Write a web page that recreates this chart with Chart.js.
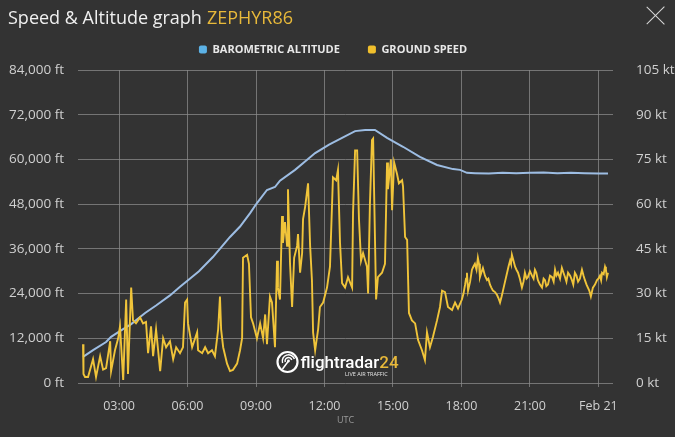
<!DOCTYPE html>
<html><head><meta charset="utf-8">
<script src="https://cdn.jsdelivr.net/npm/chart.js@4.4.1/dist/chart.umd.min.js"></script>
<style>
html,body{margin:0;padding:0;background:#333333;width:675px;height:437px;overflow:hidden;font-family:'Open Sans',sans-serif}
#c{position:absolute;left:0;top:0}
#title{position:absolute;left:8px;top:5px;font-size:18px;color:#f0f0f0;white-space:nowrap}
#title span{color:#e8b93a;margin-left:5px}
#close{position:absolute;left:646px;top:6px;width:20px;height:20px}
#close:before,#close:after{content:'';position:absolute;left:9px;top:-3px;width:1.4px;height:25px;background:#d8d8d8;transform:rotate(45deg)}
#close:after{transform:rotate(-45deg)}
</style></head>
<body>
<canvas id="c" width="675" height="437"></canvas>
<div id="title">Speed &amp; Altitude graph<span>ZEPHYR86</span></div>
<div id="close"></div>
<script>
// ---- data (hours since Feb 20 00:00 UTC) ----
const altHours = [1.42,1.86,2.43,2.65,3.0,3.53,4.14,4.62,5.23,5.67,6.02,6.50,7.11,7.86,8.30,8.74,9.04,9.48,9.83,10.05,10.71,11.20,11.59,12.20,12.77,13.34,13.78,14.21,14.74,15.44,16.18,16.93,17.63,17.94,18.24,18.60,19.20,19.80,20.40,21.00,21.60,22.20,22.80,23.40,24.00,24.42];
const altFeet  = [7000,8800,11000,12400,13800,15800,18800,20800,23500,25800,27600,30000,33800,39200,42000,45600,48300,51800,52600,54300,57200,59700,61700,64000,65800,67600,67900,67900,65800,63400,60700,58500,57400,57200,56400,56300,56200,56400,56300,56400,56500,56300,56400,56300,56200,56200];

const speedHours = [1.42,1.44,1.51,1.64,1.86,1.99,2.17,2.30,2.43,2.61,2.65,2.82,2.96,3.04,3.18,3.31,3.39,3.53,3.61,3.74,3.92,4.05,4.18,4.27,4.40,4.49,4.62,4.80,4.93,5.06,5.23,5.37,5.50,5.67,5.80,5.89,5.98,6.02,6.20,6.42,6.46,6.64,6.77,6.90,7.07,7.20,7.34,7.42,7.47,7.56,7.73,7.86,7.99,8.17,8.30,8.39,8.43,8.61,8.69,8.78,8.87,9.04,9.18,9.31,9.40,9.48,9.61,9.70,9.83,9.92,9.96,10.05,10.14,10.18,10.27,10.36,10.40,10.49,10.58,10.67,10.80,10.84,10.93,11.02,11.06,11.15,11.28,11.37,11.45,11.50,11.59,11.72,11.80,11.94,12.11,12.24,12.37,12.51,12.59,12.68,12.77,12.90,13.03,13.21,13.25,13.34,13.43,13.51,13.60,13.69,13.86,13.91,13.99,14.08,14.13,14.21,14.26,14.34,14.52,14.65,14.74,14.78,14.91,14.96,15.05,15.18,15.26,15.40,15.44,15.53,15.62,15.70,15.83,15.97,16.10,16.27,16.40,16.49,16.62,16.75,16.93,17.06,17.15,17.28,17.41,17.59,17.72,17.85,18.02,18.09,18.16,18.20,18.24,18.29,18.38,18.46,18.52,18.59,18.66,18.72,18.77,18.81,18.87,18.94,19.03,19.12,19.18,19.25,19.31,19.38,19.47,19.56,19.62,19.69,19.76,19.82,19.91,20.00,20.06,20.13,20.17,20.21,20.28,20.35,20.41,20.48,20.56,20.65,20.72,20.78,20.85,20.91,21.00,21.09,21.16,21.22,21.28,21.35,21.44,21.53,21.60,21.66,21.72,21.79,21.88,21.97,22.04,22.10,22.16,22.23,22.32,22.40,22.47,22.54,22.60,22.67,22.76,22.84,22.90,22.97,23.04,23.11,23.19,23.28,23.35,23.41,23.48,23.54,23.60,23.67,23.76,23.85,23.94,24.00,24.07,24.12,24.16,24.23,24.29,24.33,24.37,24.42];
const speedKnots = [13,3,2,2,8,2,9,4.5,5,14,4,11,15,19,1,28,3,32,21,20,22,20,20.5,10,19,9,18,4,15,12,14,8,12,10,12,27,28,20,12,17,11,10,12,10,11,9,18,29,18,12,6.5,4,4.4,6.5,11,15,42,43,40,22,20,15,20,15,23,13,29,27,12,41,32,28,56,47,54,46,65,40,25.5,42,46,50,37,43.6,55,59,67,46,34.5,17,11,18,25.5,27,32,39,69,68,71.5,47,33.5,32,35.5,32,57,78,78,55,41,43.6,39,30,60,81.5,82,49,28,35.5,37,40,74,65,75,58,74,70,67,68,66,49,48,23.5,21,20,14.4,11,7.7,17,12,15.4,21,25.5,31,30.5,25.5,24.5,27,25,28,30,33,35,37,31,34,38,39,40,38,42,40,35.5,37,38.6,36,34.5,35,33,32,31,30.5,29.5,28.5,27,29,31,34,37,39,41,40,43,41,39,38,37,35,32,34,37,35,35.5,37.5,36,35,38,37,34.5,33,32,35,34.5,32.5,33,36,35.5,34,38,36,37,35,38.6,37,35.5,34,37,36,34.5,33,37,36,34,35,38,36,34.5,33,32,31,29,32,33,34.5,35,36,34.5,37,36.5,39,38,35.5,37];

const xTickHours  = [3,6,9,12,15,18,21,24];
const xTickLabels = ['03:00','06:00','09:00','12:00','15:00','18:00','21:00','Feb 21'];
const altTicks    = [0,12000,24000,36000,48000,60000,72000,84000];
const speedTicks  = [0,15,30,45,60,75,90,105];

const FONT = "'Open Sans', 'Noto Sans', sans-serif";
const GRID = 'rgba(140,140,140,0.75)';

const watermark = {
  id:'watermark',
  afterDatasetsDraw(chart){
    const ctx = chart.ctx, a = chart.chartArea;
    const cx = (a.left + a.right)/2 - 58, cy = a.bottom - 21;
    ctx.save();
    ctx.strokeStyle = '#ffffff'; ctx.fillStyle = '#ffffff';
    ctx.lineWidth = 2.2;
    ctx.beginPath(); ctx.arc(cx, cy, 10, 0, Math.PI*2); ctx.stroke();
    ctx.lineWidth = 1.5;
    ctx.beginPath(); ctx.arc(cx+1, cy-1, 6.2, Math.PI*0.9, Math.PI*1.9); ctx.stroke();
    ctx.beginPath(); ctx.arc(cx+1, cy-1, 3.4, Math.PI*0.9, Math.PI*1.9); ctx.stroke();
    ctx.beginPath(); ctx.moveTo(cx-5, cy+7); ctx.lineTo(cx+1, cy-1); ctx.stroke();
    ctx.beginPath(); ctx.arc(cx+1, cy-1, 1.4, 0, Math.PI*2); ctx.fill();
    ctx.font = "500 17px 'Roboto', " + FONT;
    ctx.textBaseline = 'alphabetic';
    const t1 = 'flightradar', x0 = cx + 13, by = cy + 6;
    ctx.fillText(t1, x0, by);
    const w1 = ctx.measureText(t1).width;
    ctx.fillStyle = '#e8b93a';
    ctx.fillText('24', x0 + w1, by);
    const w2 = ctx.measureText('24').width;
    ctx.fillStyle = '#e6e6e6';
    ctx.font = "5.5px " + FONT;
    ctx.textAlign = 'right';
    ctx.fillText('LIVE AIR TRAFFIC', x0 + w1 + w2 - 11, by + 8);
    ctx.restore();
  }
};

const legendGap = {
  id:'legendGap',
  beforeInit(chart){
    const fit = chart.legend.fit;
    chart.legend.fit = function(){ fit.call(this); this.height += 5; };
  },
  afterLayout(chart){
    chart.legend.left -= 4.5; chart.legend.right -= 4.5;
  }
};

new Chart(document.getElementById('c'), {
  type:'line',
  data:{
    datasets:[
      {label:'BAROMETRIC ALTITUDE', data: altHours.map((h,i)=>({x:h,y:altFeet[i]})), yAxisID:'yL',
       borderColor:'#9dbde3', backgroundColor:'#5cb2e6', borderWidth:2, pointRadius:0, tension:0, order:2},
      {label:'GROUND SPEED', data: speedHours.map((h,i)=>({x:h,y:speedKnots[i]})), yAxisID:'yR',
       borderColor:'#f0c43a', backgroundColor:'#f0bf2c', borderWidth:1.9, pointRadius:0, tension:0, order:1}
    ]
  },
  options:{
    responsive:false, animation:false, devicePixelRatio:1,
    layout:{padding:{left:0,right:0,top:16,bottom:0}},
    plugins:{
      tooltip:{enabled:false},
      legend:{position:'top',
        labels:{color:'#e8e8e8',font:{family:FONT,size:11,weight:'bold'},boxWidth:8,boxHeight:8,
                useBorderRadius:true,borderRadius:2,padding:28,
                generateLabels(chart){
                  return chart.data.datasets.map((d,i)=>({text:d.label,fillStyle:d.backgroundColor,strokeStyle:d.backgroundColor,lineWidth:0,fontColor:'#e8e8e8',datasetIndex:i,hidden:false,borderRadius:2}));
                }}}
    },
    scales:{
      x:{type:'linear',min:1.2,max:24.64,
         afterBuildTicks(axis){axis.ticks = xTickHours.map(v=>({value:v}));},
         afterFit(scale){scale.height = 54;},
         ticks:{color:'#d0d0d0',font:{family:FONT,size:12.5},padding:12,maxRotation:0,autoSkip:false,
                callback(v){const i=xTickHours.indexOf(v);return i>=0?xTickLabels[i]:'';}},
         grid:{color:GRID,lineWidth:1,drawTicks:true,tickLength:4},
         border:{display:false},
         title:{display:true,text:'UTC',color:'#9a9a9a',font:{family:FONT,size:9},padding:{top:0,bottom:11}}},
      yL:{position:'left',min:0,max:84000,
         afterBuildTicks(axis){axis.ticks = altTicks.map(v=>({value:v}));},
         afterFit(scale){scale.width = 78;},
         ticks:{color:'#d0d0d0',font:{family:FONT,size:13.5},padding:14,
                callback(v){return v.toLocaleString('en-US')+' ft';}},
         grid:{color:GRID,lineWidth:1,drawTicks:false},
         border:{display:false}},
      yR:{position:'right',min:0,max:105,
         afterBuildTicks(axis){axis.ticks = speedTicks.map(v=>({value:v}));},
         afterFit(scale){scale.width = 62;},
         ticks:{color:'#d0d0d0',font:{family:FONT,size:13.5},padding:15,
                callback(v){return v+' kt';}},
         grid:{display:false},
         border:{display:false}}
    }
  },
  plugins:[watermark, legendGap]
});
</script>
</body></html>
